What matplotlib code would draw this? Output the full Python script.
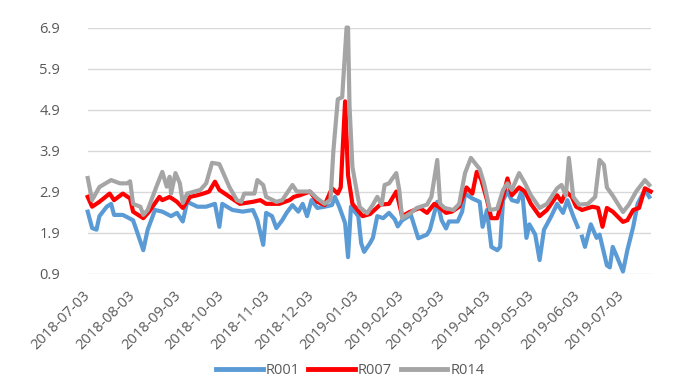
#!/usr/bin/env python
"""
Repo rate lines
===============

R001 / R007 / R014 daily repo rates, Jul 2018 - Jul 2019.
"""

import numpy as np
import pandas as pd
import matplotlib
matplotlib.use("Agg")
import matplotlib.pyplot as plt
import matplotlib.dates as mdates

# R001 (None = missing day, the line breaks there)
r001_dates = [
    "2018-07-03", "2018-07-06", "2018-07-09", "2018-07-11", "2018-07-16", "2018-07-19",
    "2018-07-21", "2018-07-27", "2018-08-03", "2018-08-06", "2018-08-10", "2018-08-13",
    "2018-08-18", "2018-08-23", "2018-08-29", "2018-09-02", "2018-09-06", "2018-09-09",
    "2018-09-16", "2018-09-22", "2018-09-28", "2018-10-01", "2018-10-03", "2018-10-10",
    "2018-10-17", "2018-10-24", "2018-10-27", "2018-10-31", "2018-11-02", "2018-11-06",
    "2018-11-09", "2018-11-13", "2018-11-16", "2018-11-20", "2018-11-24", "2018-11-27",
    "2018-11-30", "2018-12-03", "2018-12-07", "2018-12-12", "2018-12-17", "2018-12-19",
    "2018-12-22", "2018-12-26", "2018-12-28", "2018-12-30", "2019-01-04", "2019-01-06",
    "2019-01-08", "2019-01-12", "2019-01-14", "2019-01-17", "2019-01-21", "2019-01-25",
    "2019-01-29", "2019-01-31", "2019-02-03", "2019-02-09", "2019-02-14", "2019-02-20",
    "2019-02-22", "2019-02-27", "2019-03-02", "2019-03-05", "2019-03-07", "2019-03-13",
    "2019-03-16", "2019-03-18", "2019-03-23", "2019-03-28", "2019-03-30", "2019-04-02",
    "2019-04-05", "2019-04-09", "2019-04-11", "2019-04-13", "2019-04-16", "2019-04-19",
    "2019-04-23", "2019-04-26", "2019-04-29", "2019-05-01", "2019-05-05", "2019-05-08",
    "2019-05-11", "2019-05-16", "2019-05-20", "2019-05-24", "2019-05-27", "2019-05-31",
    "2019-06-03", "2019-06-04", "2019-06-06", "2019-06-08", "2019-06-12", "2019-06-16",
    "2019-06-18", "2019-06-23", "2019-06-25", "2019-06-27", "2019-06-30", "2019-07-04",
    "2019-07-07", "2019-07-11", "2019-07-14", "2019-07-19", "2019-07-22",
]
r001_values = [
    2.41, 2.01, 1.97, 2.30, 2.53, 2.60,
    2.33, 2.33, 2.20, 1.89, 1.47, 1.97,
    2.45, 2.41, 2.30, 2.38, 2.17, 2.65,
    2.53, 2.53, 2.60, 2.04, 2.60, 2.45,
    2.41, 2.45, 2.20, 1.60, 2.38, 2.30,
    2.01, 2.20, 2.38, 2.57, 2.41, 2.60,
    2.30, 2.69, 2.50, 2.53, 2.57, 2.77,
    2.53, 2.13, 1.30, 2.53, 2.30, 1.64,
    1.43, 1.64, 1.77, 2.30, 2.25, 2.38,
    2.22, 2.05, 2.20, 2.33, 1.76, 1.85,
    1.97, 2.65, 2.20, 2.00, 2.17, 2.17,
    2.41, 2.85, 2.73, 2.65, 2.04, 2.45,
    1.55, 1.47, 1.55, 2.69, 2.90, 2.69,
    2.65, 2.94, 1.77, 2.10, 1.85, 1.23,
    1.97, 2.30, 2.60, 2.38, 2.69, 2.30,
    2.04, None, 1.80, 1.55, 2.10, 1.77,
    1.85, 1.10, 1.05, 1.55, 1.30, 0.95,
    1.47, 2.04, 2.60, 2.94, 2.77,
]

# R007
r007_dates = [
    "2018-07-03", "2018-07-06", "2018-07-11", "2018-07-18", "2018-07-21", "2018-07-27",
    "2018-08-01", "2018-08-03", "2018-08-10", "2018-08-14", "2018-08-21", "2018-08-23",
    "2018-08-28", "2018-09-02", "2018-09-06", "2018-09-11", "2018-09-16", "2018-09-20",
    "2018-09-24", "2018-09-28", "2018-10-01", "2018-10-08", "2018-10-15", "2018-10-24",
    "2018-10-29", "2018-11-02", "2018-11-11", "2018-11-18", "2018-11-21", "2018-11-25",
    "2018-12-02", "2018-12-07", "2018-12-12", "2018-12-17", "2018-12-21", "2018-12-23",
    "2018-12-26", "2018-12-28", "2018-12-31", "2019-01-07", "2019-01-12", "2019-01-19",
    "2019-01-25", "2019-01-30", "2019-02-03", "2019-02-08", "2019-02-15", "2019-02-20",
    "2019-02-25", "2019-03-01", "2019-03-05", "2019-03-09", "2019-03-14", "2019-03-19",
    "2019-03-23", "2019-03-26", "2019-03-29", "2019-04-02", "2019-04-05", "2019-04-09",
    "2019-04-13", "2019-04-16", "2019-04-19", "2019-04-24", "2019-04-28", "2019-05-02",
    "2019-05-08", "2019-05-13", "2019-05-20", "2019-05-23", "2019-05-26", "2019-05-30",
    "2019-06-02", "2019-06-06", "2019-06-13", "2019-06-17", "2019-06-20", "2019-06-23",
    "2019-06-27", "2019-07-04", "2019-07-07", "2019-07-11", "2019-07-15", "2019-07-19",
    "2019-07-23",
]
r007_values = [
    2.77, 2.53, 2.65, 2.85, 2.69, 2.85,
    2.73, 2.41, 2.25, 2.41, 2.77, 2.69,
    2.77, 2.65, 2.50, 2.77, 2.81, 2.85,
    2.90, 3.14, 2.94, 2.77, 2.60, 2.65,
    2.69, 2.60, 2.60, 2.69, 2.77, 2.81,
    2.90, 2.65, 2.57, 2.98, 2.85, 3.00,
    5.10, 3.30, 2.60, 2.30, 2.35, 2.58,
    2.60, 2.90, 2.30, 2.40, 2.50, 2.38,
    2.60, 2.50, 2.38, 2.41, 2.53, 3.00,
    2.85, 3.38, 3.20, 2.70, 2.25, 2.25,
    2.77, 3.22, 2.81, 3.00, 2.90, 2.60,
    2.30, 2.45, 2.81, 2.65, 2.90, 2.77,
    2.53, 2.45, 2.53, 2.50, 2.04, 2.50,
    2.41, 2.16, 2.20, 2.45, 2.50, 2.98,
    2.90,
]

# R014
r014_dates = [
    "2018-07-03", "2018-07-06", "2018-07-11", "2018-07-19", "2018-07-25", "2018-07-30",
    "2018-08-01", "2018-08-03", "2018-08-08", "2018-08-10", "2018-08-13", "2018-08-19",
    "2018-08-23", "2018-08-26", "2018-08-28", "2018-08-29", "2018-09-01", "2018-09-04",
    "2018-09-06", "2018-09-09", "2018-09-18", "2018-09-22", "2018-09-26", "2018-10-01",
    "2018-10-08", "2018-10-13", "2018-10-16", "2018-10-18", "2018-10-25", "2018-10-27",
    "2018-10-31", "2018-11-02", "2018-11-09", "2018-11-13", "2018-11-20", "2018-11-23",
    "2018-12-02", "2018-12-07", "2018-12-12", "2018-12-16", "2018-12-18", "2018-12-21",
    "2018-12-24", "2018-12-27", "2018-12-28", "2018-12-29", "2018-12-31", "2019-01-03",
    "2019-01-05", "2019-01-10", "2019-01-14", "2019-01-17", "2019-01-20", "2019-01-22",
    "2019-01-25", "2019-01-30", "2019-02-01", "2019-02-03", "2019-02-09", "2019-02-13",
    "2019-02-20", "2019-02-23", "2019-02-27", "2019-03-01", "2019-03-04", "2019-03-10",
    "2019-03-14", "2019-03-18", "2019-03-22", "2019-03-28", "2019-03-31", "2019-04-04",
    "2019-04-09", "2019-04-13", "2019-04-16", "2019-04-19", "2019-04-24", "2019-04-28",
    "2019-05-02", "2019-05-08", "2019-05-13", "2019-05-20", "2019-05-23", "2019-05-26",
    "2019-05-28", "2019-05-31", "2019-06-04", "2019-06-10", "2019-06-15", "2019-06-18",
    "2019-06-21", "2019-06-23", "2019-06-27", "2019-07-04", "2019-07-08", "2019-07-13",
    "2019-07-19", "2019-07-22",
]
r014_values = [
    3.23, 2.69, 3.01, 3.18, 3.10, 3.10,
    3.15, 2.60, 2.53, 2.33, 2.45, 3.02,
    3.38, 3.02, 3.26, 2.85, 3.35, 3.10,
    2.62, 2.85, 2.94, 3.10, 3.60, 3.57,
    3.00, 2.69, 2.65, 2.85, 2.85, 3.18,
    3.06, 2.77, 2.65, 2.69, 3.06, 2.90,
    2.90, 2.73, 2.60, 2.70, 3.90, 5.15,
    5.20, 6.90, 6.90, 5.00, 3.50, 2.90,
    2.52, 2.37, 2.58, 2.77, 2.58, 3.06,
    3.10, 3.35, 2.94, 2.25, 2.38, 2.50,
    2.58, 2.77, 3.67, 2.60, 2.50, 2.45,
    2.60, 3.35, 3.72, 3.45, 3.10, 2.45,
    2.48, 2.94, 3.10, 2.94, 3.35, 3.10,
    2.81, 2.50, 2.60, 2.98, 3.06, 2.80,
    3.72, 2.77, 2.58, 2.60, 2.77, 3.67,
    3.55, 3.00, 2.80, 2.40, 2.58, 2.90,
    3.18, 3.06,
]

series_names = ["R001", "R007", "R014"]
series_colors = ["#5B9BD5", "#FF0000", "#A5A5A5"]

y_ticks = [0.9, 1.9, 2.9, 3.9, 4.9, 5.9, 6.9]
x_tick_labels = [
    "2018-07-03", "2018-08-03", "2018-09-03", "2018-10-03", "2018-11-03",
    "2018-12-03", "2019-01-03", "2019-02-03", "2019-03-03", "2019-04-03",
    "2019-05-03", "2019-06-03", "2019-07-03",
]
x_start, x_end = "2018-07-03", "2019-07-23"


def draw_chart(out_file):
    """Draw the three rate lines in the Excel-like style and save."""
    plt.rcParams["font.family"] = ["Open Sans", "DejaVu Sans"]
    text_color = "#595959"

    fig = plt.figure(figsize=(6.8, 3.88), dpi=100)
    ax = fig.add_axes([0.129, 0.295, 0.828, 0.634])

    all_dates = [r001_dates, r007_dates, r014_dates]
    all_values = [r001_values, r007_values, r014_values]
    for dates, values, name, color in zip(all_dates, all_values,
                                          series_names, series_colors):
        vals = np.array([np.nan if v is None else v for v in values])
        ax.plot(pd.to_datetime(dates), vals, color=color, lw=3.0,
                label=name, solid_joinstyle="round", clip_on=False)

    # axes, grid
    ax.set_xlim(pd.Timestamp(x_start), pd.Timestamp(x_end))
    ax.set_ylim(y_ticks[0], y_ticks[-1])
    ax.set_yticks(y_ticks)
    ax.set_yticklabels([f"{t:.1f}" for t in y_ticks])
    ax.set_xticks(pd.to_datetime(x_tick_labels))
    ax.set_xticklabels(x_tick_labels, rotation=45, ha="right", va="center",
                       rotation_mode="anchor")
    ax.xaxis.set_major_formatter(mdates.DateFormatter("%Y-%m-%d"))
    ax.grid(axis="y", color="#D9D9D9", lw=1.0)
    ax.set_axisbelow(True)
    for s in ax.spines.values():
        s.set_visible(False)
    ax.tick_params(axis="y", length=0, pad=20, labelsize=10.5,
                   labelcolor=text_color)
    ax.tick_params(axis="x", length=0, pad=14, labelsize=10.5,
                   labelcolor=text_color)
    for lab in ax.get_xticklabels():
        lab.set_rotation(45)
        lab.set_ha("right")
        lab.set_va("center")
        lab.set_rotation_mode("anchor")

    # legend at the bottom
    leg = fig.legend(loc="center", bbox_to_anchor=(0.515, 0.045), ncol=3,
                     frameon=False, fontsize=10.5, handlelength=3.2,
                     handletextpad=0.2, columnspacing=0.6)
    for t in leg.get_texts():
        t.set_color(text_color)
    for h in leg.legend_handles:
        h.set_linewidth(3.5)

    fig.savefig(out_file, dpi=100)


if __name__ == "__main__":
    draw_chart("out.png")
